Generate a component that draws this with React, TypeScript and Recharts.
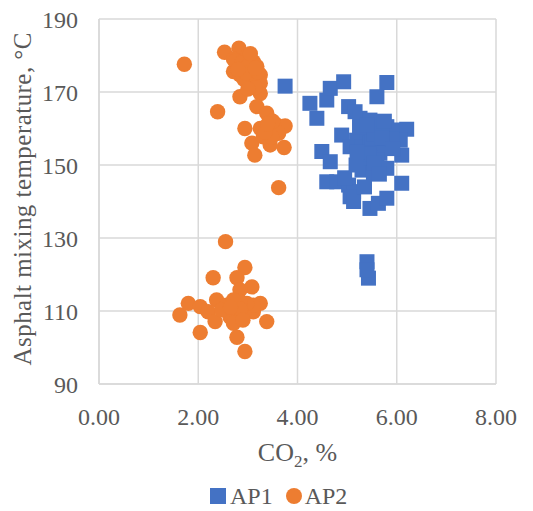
import React from 'react';
import { ScatterChart, Scatter, XAxis, YAxis, CartesianGrid } from 'recharts';

const xTicks = [0, 2, 4, 6, 8];
const yTicks = [90, 110, 130, 150, 170, 190];

const ap1 = [
  { x: 3.75, y: 171.6 }, { x: 4.25, y: 166.9 }, { x: 4.39, y: 162.8 }, { x: 4.59, y: 167.8 },
  { x: 4.66, y: 171.0 }, { x: 4.93, y: 172.8 }, { x: 5.8, y: 172.6 }, { x: 5.6, y: 168.7 },
  { x: 5.03, y: 166.0 }, { x: 5.16, y: 164.6 }, { x: 5.26, y: 162.8 }, { x: 5.46, y: 162.3 },
  { x: 4.89, y: 158.2 }, { x: 5.06, y: 155.0 }, { x: 5.19, y: 156.8 }, { x: 5.4, y: 158.7 },
  { x: 5.6, y: 160.5 }, { x: 5.8, y: 160.5 }, { x: 6.0, y: 159.6 }, { x: 6.2, y: 159.8 },
  { x: 6.07, y: 156.8 }, { x: 6.1, y: 152.7 }, { x: 5.66, y: 155.0 }, { x: 5.66, y: 153.2 },
  { x: 4.49, y: 153.7 }, { x: 4.66, y: 150.9 }, { x: 5.43, y: 150.4 }, { x: 5.6, y: 151.3 },
  { x: 5.8, y: 149.1 }, { x: 5.3, y: 148.6 }, { x: 5.53, y: 147.7 }, { x: 4.59, y: 145.4 },
  { x: 4.79, y: 145.4 }, { x: 5.03, y: 144.5 }, { x: 5.13, y: 142.7 }, { x: 5.06, y: 141.3 },
  { x: 5.13, y: 140.0 }, { x: 5.46, y: 138.1 }, { x: 5.63, y: 139.5 }, { x: 5.8, y: 140.9 },
  { x: 6.1, y: 145.0 }, { x: 5.4, y: 123.5 }, { x: 5.43, y: 119.0 }, { x: 5.4, y: 121.3 },
  { x: 5.3, y: 155.0 }, { x: 5.46, y: 155.9 }, { x: 5.5, y: 157.5 }, { x: 5.9, y: 157.0 },
  { x: 5.35, y: 152.0 }, { x: 4.95, y: 146.5 }, { x: 5.25, y: 160.5 }, { x: 5.55, y: 158.5 },
  { x: 5.7, y: 157.5 }, { x: 5.45, y: 153.0 }, { x: 5.55, y: 150.5 }, { x: 5.2, y: 153.5 },
  { x: 5.65, y: 147.5 }, { x: 5.35, y: 144.0 }, { x: 5.75, y: 162.0 }, { x: 5.92, y: 154.5 },
  { x: 5.18, y: 150.0 }, { x: 5.4, y: 161.0 },
];

const ap2 = [
  { x: 1.72, y: 177.6 }, { x: 2.53, y: 180.9 }, { x: 2.82, y: 182.0 }, { x: 2.71, y: 179.0 },
  { x: 2.78, y: 177.0 }, { x: 2.71, y: 175.6 }, { x: 2.98, y: 179.7 }, { x: 3.11, y: 178.3 },
  { x: 3.18, y: 177.0 }, { x: 3.25, y: 174.7 }, { x: 3.25, y: 172.4 }, { x: 3.04, y: 172.4 },
  { x: 2.84, y: 174.7 }, { x: 2.84, y: 168.7 }, { x: 3.25, y: 169.6 }, { x: 2.39, y: 164.6 },
  { x: 3.18, y: 166.0 }, { x: 3.38, y: 164.2 }, { x: 2.94, y: 160.0 }, { x: 3.25, y: 160.0 },
  { x: 3.45, y: 160.5 }, { x: 3.58, y: 161.0 }, { x: 3.75, y: 160.7 }, { x: 3.08, y: 156.0 },
  { x: 3.45, y: 155.5 }, { x: 3.62, y: 158.7 }, { x: 3.73, y: 154.8 }, { x: 3.14, y: 152.7 },
  { x: 3.62, y: 143.8 }, { x: 3.31, y: 157.7 }, { x: 3.48, y: 157.7 }, { x: 2.9, y: 176.5 },
  { x: 2.75, y: 178.5 }, { x: 2.88, y: 178.0 }, { x: 3.0, y: 177.0 }, { x: 3.05, y: 175.0 },
  { x: 2.92, y: 173.5 }, { x: 3.12, y: 173.8 }, { x: 3.15, y: 171.2 }, { x: 3.0, y: 170.8 },
  { x: 2.96, y: 175.2 }, { x: 2.8, y: 176.2 }, { x: 3.2, y: 175.5 }, { x: 3.05, y: 180.5 },
  { x: 3.15, y: 176.5 }, { x: 3.35, y: 159.0 }, { x: 3.5, y: 162.0 }, { x: 3.4, y: 161.2 },
  { x: 2.55, y: 129.0 }, { x: 2.94, y: 121.9 }, { x: 2.3, y: 119.1 }, { x: 2.78, y: 119.1 },
  { x: 3.08, y: 116.6 }, { x: 2.84, y: 115.8 }, { x: 1.8, y: 112.1 }, { x: 2.04, y: 111.2 },
  { x: 2.37, y: 113.0 }, { x: 1.63, y: 108.9 }, { x: 2.2, y: 109.8 }, { x: 2.34, y: 107.1 },
  { x: 2.04, y: 104.1 }, { x: 2.64, y: 108.4 }, { x: 2.81, y: 109.4 }, { x: 2.71, y: 106.6 },
  { x: 2.78, y: 102.8 }, { x: 2.94, y: 98.9 }, { x: 3.11, y: 109.8 }, { x: 3.25, y: 112.1 },
  { x: 3.11, y: 111.6 }, { x: 3.38, y: 107.1 }, { x: 2.98, y: 112.1 }, { x: 2.84, y: 112.6 },
  { x: 2.57, y: 111.6 }, { x: 2.71, y: 113.0 }, { x: 2.47, y: 110.3 }, { x: 2.85, y: 110.5 },
  { x: 2.65, y: 111.0 }, { x: 2.9, y: 107.5 },
];

const BLUE = '#4472C4';
const ORANGE = '#ED7D31';
const TEXT = '#595959';
const GRID = '#D9D9D9';
const FONT = '"Liberation Serif", "Times New Roman", serif';

const SquareShape = (props: any) => {
  const { cx, cy } = props;
  if (cx == null || cy == null) return null;
  return <rect x={cx - 7.5} y={cy - 7.5} width={15} height={15} fill={BLUE} />;
};

const CircleShape = (props: any) => {
  const { cx, cy } = props;
  if (cx == null || cy == null) return null;
  return <circle cx={cx} cy={cy} r={7.7} fill={ORANGE} />;
};

const XLabel = (props: any) => {
  const vb = props.viewBox || {};
  const cx = vb.x + vb.width / 2;
  return (
    <text x={cx} y={461} textAnchor="middle" fill={TEXT} fontSize={26} fontFamily={FONT}>
      CO<tspan fontSize={17} dy={6}>2</tspan><tspan dy={-6}>, %</tspan>
    </text>
  );
};

const YLabel = () => {
  const cy = 199;
  const cx = 31;
  return (
    <text
      x={cx}
      y={cy}
      transform={`rotate(-90, ${cx}, ${cy})`}
      textAnchor="middle"
      fill={TEXT}
      fontSize={25}
      fontFamily={FONT}
      textLength={333}
      lengthAdjust="spacing"
    >
      Asphalt mixing temperature, °C
    </text>
  );
};

export default function App() {
  return (
    <div style={{ position: 'fixed', left: 0, top: 0, width: 533, height: 511, background: '#fff' }}>
      <ScatterChart width={533} height={511} margin={{ top: 19, right: 37, left: 0, bottom: 0 }}>
        <CartesianGrid stroke={GRID} strokeWidth={1.5} />
        <XAxis
          type="number"
          dataKey="x"
          domain={[0, 8]}
          ticks={xTicks}
          tickFormatter={(v: number) => v.toFixed(2)}
          height={127}
          tickLine={false}
          tickSize={0}
          tickMargin={24}
          axisLine={{ stroke: GRID, strokeWidth: 1.5 }}
          tick={{ fill: TEXT, fontSize: 24, fontFamily: FONT }}
          interval={0}
          label={<XLabel />}
        />
        <YAxis
          type="number"
          dataKey="y"
          domain={[90, 190]}
          ticks={yTicks}
          width={99}
          tickLine={false}
          tickSize={0}
          tickMargin={21}
          axisLine={{ stroke: GRID, strokeWidth: 1.5 }}
          tick={{ fill: TEXT, fontSize: 24, fontFamily: FONT }}
          interval={0}
          label={<YLabel />}
        />
        <Scatter name="AP1" data={ap1} shape={SquareShape} isAnimationActive={false} />
        <Scatter name="AP2" data={ap2} shape={CircleShape} isAnimationActive={false} />
      </ScatterChart>
      <div
        style={{
          position: 'absolute',
          top: 481,
          left: 210,
          display: 'flex',
          alignItems: 'center',
          fontFamily: FONT,
          fontSize: 24,
          color: TEXT,
          lineHeight: '30px',
          whiteSpace: 'nowrap',
        }}
      >
        <span style={{ display: 'inline-block', width: 16, height: 16, background: BLUE, marginRight: 4 }} />
        <span>AP1</span>
        <span
          style={{ display: 'inline-block', width: 16, height: 16, borderRadius: 8, background: ORANGE, marginLeft: 13, marginRight: 3 }}
        />
        <span>AP2</span>
      </div>
    </div>
  );
}
